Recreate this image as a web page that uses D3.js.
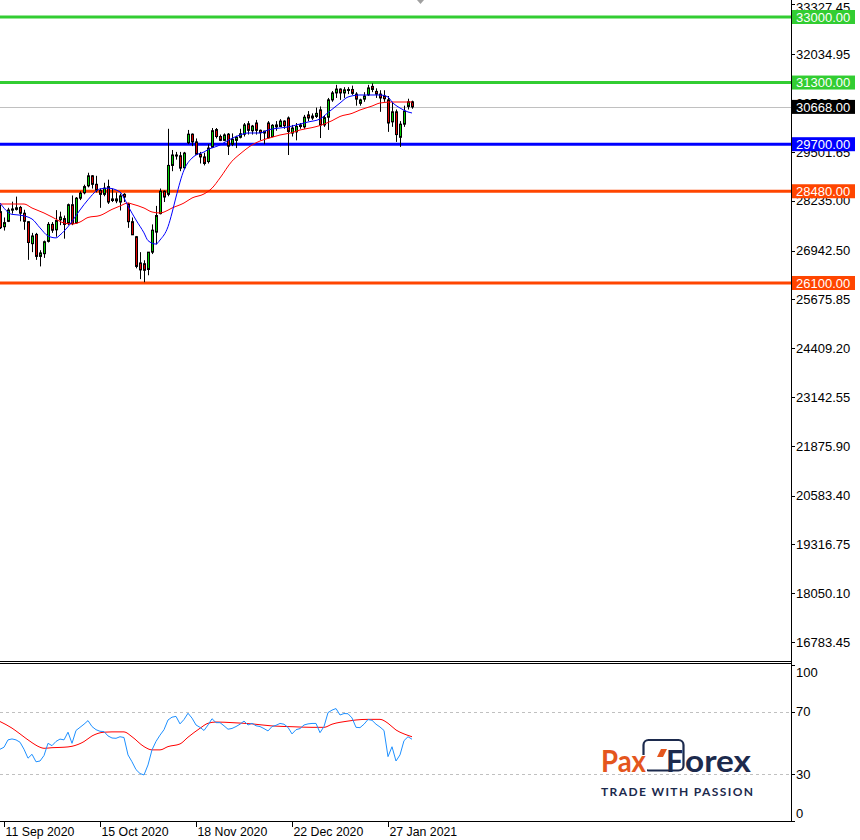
<!DOCTYPE html>
<html><head><meta charset="utf-8">
<script src="https://cdn.jsdelivr.net/npm/d3@7"></script>
<style>html,body{margin:0;padding:0;background:#fff;}svg{display:block;}</style>
</head><body>
<script>
// ---------- DATA ----------
const opens  = [27950,27560,27700,27990,28010,28060,27910,27690,27120,27360,26790,26860,27180,27620,27480,27740,27770,27650,28130,27660,28300,28440,28620,28880,28660,28500,28400,28600,28280,28280,28200,28400,28150,27690,27300,26620,26600,26450,26900,27420,27900,28480,28400,29150,29420,29400,29090,29740,29960,29760,29440,29370,29250,29620,30080,29900,29800,29960,29700,29800,29880,29960,30230,30050,30250,30060,29990,30250,29900,30200,30160,30300,30380,29990,30020,30160,30150,30460,30380,30420,30590,30200,30400,30850,31030,31130,31030,31100,31120,31000,30760,30870,30980,31200,31070,31000,30950,30850,30280,30540,29880,30220,30680,30800];
const highs  = [28130,27800,28050,28210,28340,28100,28000,27700,27400,27400,26950,27200,27680,27680,27990,27950,27850,28160,28370,28330,28480,28650,28960,28900,28880,28550,28700,28780,28550,28450,28420,28430,28180,27800,27320,26900,26690,26900,27620,28100,28550,28500,30100,29550,29500,29500,29500,30070,29980,29850,29500,29480,29700,30120,30120,29950,29980,29990,29980,29920,30100,30250,30300,30200,30330,30080,30050,30300,30220,30300,30350,30320,30420,30200,30250,30250,30460,30560,30500,30650,30680,30450,30900,31080,31240,31150,31180,31180,31220,31050,30880,31050,31240,31280,31150,31100,31100,30950,30800,30600,30300,30700,30880,30830];
const lows   = [27500,27460,27680,27900,27980,27700,27480,26700,26900,26700,26530,26750,27150,27400,27300,27600,27250,27600,27600,27640,28250,28400,28580,28550,28450,28050,28350,28150,28200,28170,27980,28200,27530,27350,26480,26200,26120,26300,26850,27100,27880,28200,28350,29000,29300,29000,29050,29700,29650,29430,29200,29150,29200,29600,29850,29780,29780,29420,29650,29600,29850,29900,29950,29950,29950,29800,29700,29850,29880,30050,30150,30100,29420,29900,29800,30100,30100,30300,30330,30380,29860,30150,30070,30800,30900,30850,30900,31000,30980,30700,30700,30800,30950,31050,30900,30540,30800,30020,30150,29760,29630,30150,30600,30620];
const closes = [27535,27666,27993,28020,28050,27910,27700,27150,27320,26790,26880,27170,27620,27470,27720,27810,27620,28130,27640,28300,28430,28600,28880,28660,28510,28400,28560,28200,28240,28230,28360,28330,27690,27350,26530,26440,26430,26900,27470,27850,28480,28330,29150,29420,29400,29080,29470,29960,29760,29440,29370,29200,29600,30050,29900,29800,29940,29650,29830,29880,29970,30200,30060,30170,30060,30000,30040,29870,30190,30150,30300,30180,30030,30120,30160,30200,30400,30380,30430,30500,30200,30390,30850,31030,31130,31030,31110,31120,31020,30870,30850,30950,31160,31120,31000,30900,30880,30250,30540,29950,30220,30560,30800,30668];

// moving averages (bar index, price)
const maFastIdx = [0,3,5,8,10,12,14,15,17,20,22,25,27,30,31,32,34,36,37,39,40,42,43,44,46,48,49,51,52,55,57,60,62,65,67,70,72,75,77,80,82,85,87,90,92,95,97,98,100,102,103];
const maFastVal = [28175,27880,27860,27760,27530,27320,27270,27345,27560,27994,28260,28540,28560,28460,28305,28100,27734,27400,27200,27110,27215,27560,27916,28330,29030,29340,29420,29498,29560,29680,29800,29939,29991,29991,30069,30121,30147,30224,30276,30354,30520,30769,30925,30977,30977,30977,30925,30795,30639,30536,30510];
const maSlowIdx = [0,6,8,11,13,16,18,20,22,25,28,30,32,33,36,38,40,41,43,46,48,51,53,55,58,60,63,65,68,70,73,75,78,80,83,85,88,90,93,95,98,100,103];
const maSlowVal = [28149,28149,28045,27916,27812,27656,27630,27682,27800,27850,28010,28097,28175,28149,28045,27942,27916,27940,28045,28175,28305,28409,28560,28824,29260,29446,29680,29783,29880,29939,30000,30069,30130,30185,30310,30420,30500,30588,30690,30769,30795,30795,30795];

// oscillator (blue) per bar and its signal line (red)
const osc = [46,47.3,52,52.6,52,50.5,46,40.3,42.8,38,38.5,42,49.8,48.3,51,52.5,52,56.9,49.8,58,60,62,64.3,60.5,58.5,57.5,57.3,54.5,53.2,53,54,53.5,42.4,38,33,30.5,29.6,36,45.6,51,55,58.5,64.7,66.5,67,62.2,65,69,65.9,61.5,60,58,61.5,65.5,63,63,61,58.8,59.3,60.5,62,64,61.5,62.6,61,60.5,59.2,57.7,60.5,61.3,62.5,62,60,55.8,58.5,59.2,61.5,62.2,62.5,62.5,56.6,60.5,69.4,71,72,67.9,68.8,68.7,66,60,59.8,62,65,64.5,62,60.2,58,41.3,47.6,38.5,42.4,51.5,54,52.4];
const sigIdx = [0,3,5,8,10,11,13,16,18,21,23,26,28,31,33,36,38,40,42,45,47,50,52,54,58,63,68,73,78,81,83,87,89,92,95,97,99,101,103];
const sigVal = [63.7,59.5,55.8,50.2,47.3,46.6,47,47.3,47.9,50.9,54.5,56.9,57.1,57.1,54,47.7,45.6,45.6,47.7,49.4,53.7,59.4,62.6,63.4,63,62.2,60.9,60.4,60,60,62,64,64.7,65.1,65.1,62.6,58.3,55.8,54];

// horizontal levels
const levelVals   = [33000, 31300, 29700, 28480, 26100];
const levelColors = ["#32cd32", "#32cd32", "#0000ff", "#ff4500", "#ff4500"];
const currentPrice = 30668;

// axis tick labels
const priceTicks = [33327.45,32034.95,30768.30,29501.65,28235.00,26942.50,25675.85,24409.20,23142.55,21875.90,20583.40,19316.75,18050.10,16783.45];
const oscTicks = [100, 70, 30, 0];
const oscLevels = [70, 30];
const dateTickIdx = [1, 25, 49, 73, 97];
const dateTickLabels = ["11 Sep 2020", "15 Oct 2020", "18 Nov 2020", "22 Dec 2020", "27 Jan 2021"];

// ---------- DRAW ----------
const W = 860, H = 840;
const axisX = 791;
const mainTop = 0, mainBot = 661;
const oscTop = 663, oscBot = 822;
const FONT = "'Liberation Sans', Arial, sans-serif";

const svg = d3.select("body").append("svg").attr("width", W).attr("height", H);
svg.append("rect").attr("width", W).attr("height", H).attr("fill", "#fff");

const x = d3.scaleLinear().domain([0, 103]).range([0, 412]);
const y = d3.scaleLinear().domain([16294, 33441]).range([mainBot, mainTop]);
const yo = d3.scaleLinear().domain([0, 100]).range([821.3, 664.7]);

const defs = svg.append("defs");
defs.append("clipPath").attr("id", "cmain").append("rect").attr("x", 0).attr("y", mainTop).attr("width", axisX).attr("height", mainBot - mainTop);
defs.append("clipPath").attr("id", "cosc").append("rect").attr("x", 0).attr("y", oscTop).attr("width", axisX).attr("height", oscBot - oscTop);

const main = svg.append("g").attr("clip-path", "url(#cmain)");

// current price line
main.append("line").attr("x1", 0).attr("x2", axisX)
  .attr("y1", Math.round(y(currentPrice)) + 0.5).attr("y2", Math.round(y(currentPrice)) + 0.5)
  .attr("stroke", "#c0c0c0").attr("stroke-width", 1);

// level lines
main.selectAll("line.lvl").data(levelVals).join("line").attr("class", "lvl")
  .attr("x1", 0).attr("x2", axisX)
  .attr("y1", d => y(d)).attr("y2", d => y(d))
  .attr("stroke", (d, i) => levelColors[i]).attr("stroke-width", 3);

// candles
const bars = d3.range(opens.length).map(i => ({i, o: opens[i], h: highs[i], l: lows[i], c: closes[i]}));
const cg = main.append("g");
cg.selectAll("line.wick").data(bars).join("line").attr("class", "wick")
  .attr("x1", d => Math.round(x(d.i)) + 0.5).attr("x2", d => Math.round(x(d.i)) + 0.5)
  .attr("y1", d => y(d.h)).attr("y2", d => y(d.l))
  .attr("stroke", "#000").attr("stroke-width", 1);
cg.selectAll("rect.body").data(bars).join("rect").attr("class", "body")
  .attr("x", d => Math.round(x(d.i)) - 0.5)
  .attr("width", 2)
  .attr("y", d => Math.min(y(d.o), y(d.c)))
  .attr("height", d => Math.max(1, Math.abs(y(d.o) - y(d.c))))
  .attr("fill", d => d.c >= d.o ? "#00d000" : "#e00000")
  .attr("stroke", "#000").attr("stroke-width", 1);

// moving averages
const lineMain = d3.line().x(d => x(d[0])).y(d => y(d[1])).curve(d3.curveMonotoneX);
main.append("path").datum(maSlowIdx.map((k, j) => [k, maSlowVal[j]]))
  .attr("d", lineMain).attr("fill", "none").attr("stroke", "#ff0000").attr("stroke-width", 1);
main.append("path").datum(maFastIdx.map((k, j) => [k, maFastVal[j]]))
  .attr("d", lineMain).attr("fill", "none").attr("stroke", "#0000ff").attr("stroke-width", 1);

// top shift marker
svg.append("path").attr("d", d3.line()([[417, 0], [424, 0], [420.5, 4]])).attr("fill", "#a0a0a0");

// oscillator panel
const og = svg.append("g").attr("clip-path", "url(#cosc)");
og.selectAll("line.ol").data(oscLevels).join("line").attr("class", "ol")
  .attr("x1", 0).attr("x2", axisX)
  .attr("y1", d => Math.round(yo(d)) + 0.5).attr("y2", d => Math.round(yo(d)) + 0.5)
  .attr("stroke", "#c0c0c0").attr("stroke-dasharray", "3,3");

og.append("path").datum(sigIdx.map((k, j) => [k, sigVal[j]]))
  .attr("d", d3.line().x(d => x(d[0])).y(d => yo(d[1])).curve(d3.curveMonotoneX))
  .attr("fill", "none").attr("stroke", "#ff0000").attr("stroke-width", 1);
og.append("path").datum(osc.map((v, i) => [i, v]))
  .attr("d", d3.line().x(d => x(d[0])).y(d => yo(d[1])))
  .attr("fill", "none").attr("stroke", "#1e90ff").attr("stroke-width", 1);

// frames
svg.append("line").attr("x1", 0).attr("x2", axisX + 1).attr("y1", mainBot + 0.5).attr("y2", mainBot + 0.5).attr("stroke", "#000");
svg.append("line").attr("x1", 0).attr("x2", axisX + 1).attr("y1", oscTop + 0.5).attr("y2", oscTop + 0.5).attr("stroke", "#000");
svg.append("line").attr("x1", 0).attr("x2", axisX + 1).attr("y1", oscBot - 0.5).attr("y2", oscBot - 0.5).attr("stroke", "#000");
svg.append("line").attr("x1", axisX + 0.5).attr("x2", axisX + 0.5).attr("y1", 0).attr("y2", oscBot).attr("stroke", "#000");

// price axis
const pa = svg.append("g");
pa.selectAll("line").data(priceTicks).join("line")
  .attr("x1", axisX).attr("x2", axisX + 4)
  .attr("y1", d => Math.round(y(d)) + 0.5).attr("y2", d => Math.round(y(d)) + 0.5).attr("stroke", "#000");
pa.selectAll("text").data(priceTicks).join("text")
  .attr("x", 796).attr("y", d => Math.max(y(d), 7)).attr("dy", "0.36em")
  .attr("font-family", FONT).attr("font-size", 13).attr("fill", "#000")
  .text(d => d.toFixed(2));

// level labels
const lv = svg.append("g");
lv.selectAll("rect").data(levelVals).join("rect")
  .attr("x", 792).attr("y", d => y(d) - 7).attr("width", 63).attr("height", 14)
  .attr("fill", (d, i) => levelColors[i]);
lv.selectAll("text").data(levelVals).join("text")
  .attr("x", 796).attr("y", d => y(d)).attr("dy", "0.36em")
  .attr("font-family", FONT).attr("font-size", 13).attr("fill", "#fff")
  .text(d => d.toFixed(2));
lv.append("rect").attr("x", 792).attr("y", y(currentPrice) - 7).attr("width", 63).attr("height", 14).attr("fill", "#000");
lv.append("text").attr("x", 796).attr("y", y(currentPrice)).attr("dy", "0.36em")
  .attr("font-family", FONT).attr("font-size", 13).attr("fill", "#fff").text(currentPrice.toFixed(2));

// oscillator axis
const oa = svg.append("g");
oa.selectAll("line").data(oscTicks).join("line")
  .attr("x1", axisX).attr("x2", axisX + 4)
  .attr("y1", d => Math.round(yo(d)) + 0.5).attr("y2", d => Math.round(yo(d)) + 0.5).attr("stroke", "#000");
oa.selectAll("text").data(oscTicks).join("text")
  .attr("x", 796).attr("y", d => Math.min(Math.max(yo(d), 672), 813)).attr("dy", "0.36em")
  .attr("font-family", FONT).attr("font-size", 13).attr("fill", "#000")
  .text(d => d);

// date axis
const da = svg.append("g");
da.selectAll("line").data(dateTickIdx).join("line")
  .attr("x1", d => Math.round(x(d)) + 0.5).attr("x2", d => Math.round(x(d)) + 0.5)
  .attr("y1", oscBot).attr("y2", oscBot + 5).attr("stroke", "#000");
da.selectAll("text").data(dateTickIdx).join("text")
  .attr("x", d => x(d) + 1.5).attr("y", 832).attr("dy", "0.36em")
  .attr("font-family", FONT).attr("font-size", 12.3).attr("fill", "#000")
  .text((d, i) => dateTickLabels[i]);

// logo
const lg = svg.append("g");
const LOGOF = "Lato, 'Open Sans', sans-serif";
const orange = "#e4561d", navy = "#1c2a4d";
lg.append("rect").attr("x", 643.5).attr("y", 740).attr("width", 40).attr("height", 30.5).attr("rx", 5)
  .attr("fill", "none").attr("stroke", navy).attr("stroke-width", 2.2);
lg.append("rect").attr("x", 638).attr("y", 755).attr("width", 9).attr("height", 18).attr("fill", "#fff");
lg.append("text").attr("x", 601).attr("y", 772).attr("font-family", LOGOF).attr("font-weight", 700)
  .attr("font-size", 31).attr("fill", orange).attr("textLength", 45).attr("lengthAdjust", "spacingAndGlyphs").text("Pax");
lg.append("path").attr("d", d3.line()([[661, 749], [667, 749], [663, 757], [657, 757]])).attr("fill", orange);
lg.append("text").attr("x", 666).attr("y", 772).attr("font-family", LOGOF).attr("font-weight", 700)
  .attr("font-size", 31).attr("fill", navy).attr("textLength", 17).attr("lengthAdjust", "spacingAndGlyphs").text("F");
lg.append("text").attr("x", 685).attr("y", 772).attr("font-family", LOGOF).attr("font-weight", 700)
  .attr("font-size", 31).attr("fill", navy).attr("textLength", 66).attr("lengthAdjust", "spacingAndGlyphs").text("orex");
lg.append("text").attr("x", 601).attr("y", 795.5).attr("font-family", LOGOF).attr("font-weight", 700)
  .attr("font-size", 12).attr("fill", navy).attr("textLength", 152).attr("lengthAdjust", "spacing").text("TRADE WITH PASSION");
</script>
</body></html>
